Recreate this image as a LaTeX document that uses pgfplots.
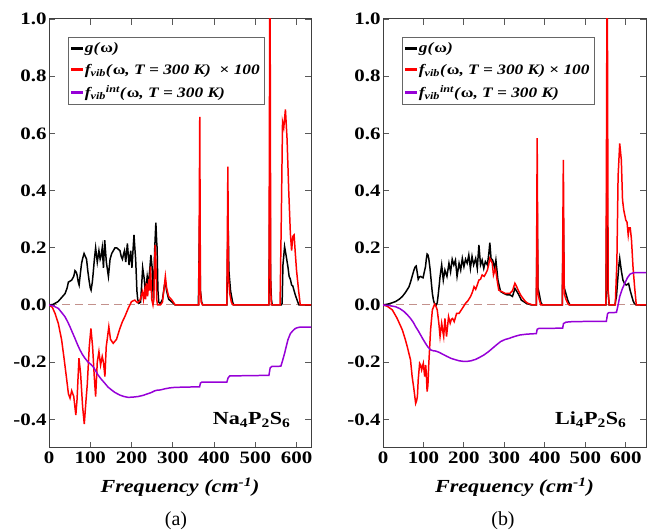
\documentclass[border=0pt]{standalone}
\usepackage{fontspec}
\setmainfont{Liberation Serif}[FakeStretch=1.2]
\newfontfamily\capfont{Liberation Serif}
\usepackage{pgfplots}
\usepackage{pgfplotstable}
\pgfplotsset{compat=1.18}
\definecolor{vio}{RGB}{150,0,215}
\definecolor{rosy}{RGB}{195,145,140}

\pgfplotstableread{
f v
0 0
10 0.002
22 0.012
30 0.025
39 0.04
44 0.06
47 0.08
55 0.087
60 0.1
63 0.12
66 0.115
68 0.105
71 0.08
73 0.07
76 0.11
79 0.146
82 0.165
85 0.18
88 0.17
91 0.16
94 0.12
97 0.087
100 0.06
102 0.052
105 0.08
107 0.11
110 0.16
113 0.2
117 0.15
121 0.19
124 0.16
126 0.17
129 0.2
132 0.13
135 0.227
139 0.15
142 0.12
144 0.1
146 0.13
148 0.16
152 0.18
156 0.19
160 0.2
164 0.2
168 0.195
172 0.19
175 0.17
178 0.16
181 0.18
183 0.19
186 0.15
190 0.215
194 0.14
198 0.19
201 0.13
204 0.2
206 0.245
208 0.2
210 0.16
212 0.09
213 0.05
215 0.02
218 0.006
222 0.01
225 0.08
227 0.13
229 0.11
231 0.09
234 0.03
236 0.07
238 0.1
241 0.07
244 0.12
247 0.175
250 0.13
252 0.05
253 0.01
255 0.12
256 0.19
259 0.288
261 0.22
262 0.2
264 0.05
266 0.01
270 0.005
275 0.02
280 0.07
282 0.08
285 0.05
290 0.02
298 0.01
306 0
362 0
365 0.3
367 0.05
370 0.01
373 0
431 0
434 0.3
436 0.12
440 0.05
445 0.01
448 0
533 0
535.5 0.5
537 0.1
539 0.02
541 0
563 0
565 0.005
567 0.14
571 0.204
575 0.17
579 0.134
582 0.1
585 0.09
588 0.07
591 0.066
594 0.05
597 0.035
603 0.01
606 0
635 0
}\gA

\pgfplotstableread{
f v
0 0
8 -0.008
14.5 -0.029
22.5 -0.064
30.6 -0.122
37 -0.192
43 -0.262
47 -0.31
51 -0.326
55 -0.3
60 -0.32
65 -0.385
68 -0.33
72.6 -0.186
76.6 -0.24
81.5 -0.356
85.5 -0.416
89.5 -0.337
92.7 -0.279
97.6 -0.146
101.6 -0.082
105.7 -0.146
109.7 -0.25
113 -0.32
117 -0.2
121 -0.163
125 -0.21
129 -0.18
132 -0.2
135.5 -0.25
138.7 -0.146
142 -0.11
145 -0.076
149 -0.12
155.6 -0.134
163.7 -0.12
171.8 -0.082
178 -0.058
184 -0.04
192 -0.012
200 0.012
208 0.017
214 0.008
220 0.015
226.6 0.047
229 0.02
232 0.05
234 0.02
236 0.076
239 0.03
242 0.09
244 0.05
246 0.134
249 0.02
252 0.0
254 0.02
256 0.15
257.5 0.21
259 0.15
261 0.02
263 0
270 0
275 0.01
279 0.06
282 0.1
285 0.06
290 0.03
298 0.017
306 0
363 0
365.4 0.658
367 0.05
369 0.01
372 0
431 0
433.5 0.484
435 0.1
438 0.04
442 0.01
446 0
533 0
535.5 1.3
537.5 0.05
539 0
560 0
563 0.3
566 0.64
569 0.62
573 0.684
577 0.58
581 0.4
585 0.25
588 0.19
591 0.24
594 0.245
597 0.18
600 0.12
605 0.05
609 0
635 0
}\rA

\pgfplotstableread{
f v
0 0
10 -0.003
22.6 -0.012
30 -0.025
38.7 -0.041
45 -0.058
50.8 -0.076
57 -0.097
63 -0.117
69 -0.138
75 -0.157
81 -0.173
87 -0.186
95 -0.2
101 -0.207
107 -0.216
113 -0.23
119 -0.245
127 -0.26
135.5 -0.274
143 -0.287
151.6 -0.297
160 -0.306
171.8 -0.315
182 -0.32
192 -0.323
204 -0.322
216 -0.32
228 -0.316
240 -0.31
248 -0.306
256.5 -0.3
262 -0.298
270 -0.297
281 -0.293
292 -0.29
305 -0.288
365 -0.286
367 -0.273
370 -0.27
431 -0.27
434 -0.255
438 -0.248
533 -0.246
536 -0.22
540 -0.215
562 -0.214
566 -0.195
571 -0.169
575 -0.145
579 -0.122
585 -0.1
591 -0.09
597 -0.082
603 -0.079
610 -0.077
635 -0.077
}\pA

\pgfplotstableread{
f v
0 0
15 0.004
31 0.012
40 0.02
48 0.03
56 0.045
64 0.063
68 0.08
72 0.1
76 0.12
79 0.132
82 0.136
85 0.11
87 0.09
90 0.098
93 0.1
96 0.097
99 0.095
102 0.115
105 0.134
107 0.16
109 0.178
111 0.175
113 0.163
116 0.13
118 0.1
120 0.07
122 0.04
125 0.015
127 0.006
131.5 0
134 0.008
136 0.03
139 0.07
141 0.1
145 0.14
149 0.087
153 0.122
158 0.1
163 0.146
167 0.116
171 0.16
175 0.14
179 0.157
183 0.1
188 0.146
192 0.122
196 0.163
200 0.134
204 0.16
208 0.146
212 0.175
216 0.128
220 0.17
224 0.14
229 0.163
233 0.128
237 0.21
241 0.14
245 0.157
249 0.128
253 0.152
258 0.14
262 0.186
264 0.218
267 0.163
271 0.157
276 0.128
279 0.157
284 0.087
290.6 0.047
299 0.04
307 0.035
314 0.035
320 0.03
326 0.058
334 0.04
342 0.017
354 0.006
367 0
379 0
381 0.35
383 0.06
386 0.04
390 0.01
394 0
443 0
445.5 0.3
448 0.06
452 0.04
457 0.015
462 0
551 0
553.5 0.5
556 0.05
559 0
573 0
577 0.03
580 0.087
583 0.14
585 0.163
589 0.12
593 0.087
597 0.075
601 0.07
604 0.072
607 0.075
611 0.05
614 0.035
618 0.015
621 0.006
626 0
650 0
}\gB

\pgfplotstableread{
f v
0 0
10 -0.004
23 -0.017
35 -0.047
47.7 -0.087
55 -0.12
60 -0.146
68 -0.192
72 -0.25
76 -0.29
80.7 -0.344
83 -0.335
85 -0.32
87 -0.262
90.5 -0.204
93 -0.21
95.5 -0.227
99.6 -0.204
103 -0.25
105.5 -0.21
107 -0.24
109 -0.303
111 -0.28
113 -0.21
117.6 -0.087
122 -0.017
127.6 0.003
131 -0.005
134 -0.017
138 -0.064
141 -0.11
145 -0.064
148 -0.093
150 -0.11
153 -0.047
157 -0.11
162 -0.041
166 -0.064
169 -0.05
172 -0.047
176 -0.058
182 -0.029
188 -0.029
196 -0.012
204 0.006
210 0.015
216.5 0.03
221 0.045
225 0.064
229 0.055
233 0.07
237 0.087
241 0.09
245 0.105
250 0.1
254 0.11
258 0.122
261 0.14
264 0.163
267 0.155
270 0.146
273 0.105
276 0.12
278 0.128
282 0.087
286 0.052
293 0.047
303 0.04
314 0.041
320 0.05
326 0.076
330 0.065
334 0.052
340 0.035
346 0.023
352 0.012
358 0.006
370 0
379 0
381 0.583
383 0.04
386 0.02
390 0
443 0
445.7 0.507
448 0.04
452 0.02
457 0.005
460 0
551 0
554 1.3
556.5 0.05
559 0
574 0
578 0.15
581 0.45
585 0.565
589 0.507
592 0.367
595 0.332
600 0.297
603 0.29
606 0.245
608 0.27
611 0.27
614 0.23
618 0.13
622 0.06
626 0
650 0
}\rB

\pgfplotstableread{
f v
0 0
15 -0.002
31 -0.006
42 -0.013
52 -0.023
60 -0.034
68 -0.047
75 -0.061
80.7 -0.076
87 -0.09
93 -0.105
99 -0.12
105 -0.134
111 -0.147
117.6 -0.157
124 -0.16
130 -0.161
138 -0.165
146 -0.171
157 -0.179
167 -0.186
178 -0.191
188 -0.195
198 -0.197
208 -0.197
218 -0.195
229 -0.19
239 -0.183
249 -0.175
260 -0.164
270 -0.152
280 -0.14
290.6 -0.128
301 -0.121
311 -0.117
325 -0.11
338 -0.105
355 -0.102
379 -0.1
381 -0.085
385 -0.082
444 -0.081
446 -0.065
452 -0.06
470 -0.058
552 -0.057
555 -0.03
558 -0.027
577 -0.026
581 0.0
585 0.029
591 0.055
597.5 0.076
604 0.095
610 0.107
614 0.11
620 0.113
650 0.113
}\pB

\pgfplotsset{
  panel/.style={
    anchor=south west, scale only axis, height=429bp,
    ymin=-0.5, ymax=1.0, xmin=0,
    axis line style={line width=1pt, black!75},
    every tick/.style={line width=0.9pt, black!65},
    major tick length=6bp,
    xtick={0,100,200,300,400,500,600},
    xticklabels={0,100,200,300,400,500,600},
    ytick={-0.4,-0.2,0,0.2,0.4,0.6,0.8,1.0},
    yticklabels={-0.4,-0.2,0.0,0.2,0.4,0.6,0.8,1.0},
    ticklabel style={font=\fontsize{17.5}{17.5}\selectfont\bfseries},
    yticklabel style={xshift=1bp},
    xticklabel style={yshift=-0.5bp},
    xlabel={Frequency (cm\textsuperscript{-1})},
    xlabel style={font=\fontsize{18.5}{18.5}\selectfont\bfseries\itshape,
      at={(axis description cs:0.5,0)}, anchor=base, yshift=-45bp},
    legend cell align=left,
    legend style={at={(0.0725,0.958)}, anchor=north west,
      draw=black!60, line width=0.8pt,
      font=\fontsize{14.5}{16}\selectfont\bfseries\itshape,
      row sep=6bp, inner xsep=3bp, inner ysep=3bp},
  },
  gline/.style={draw=black, line width=1.5pt},
  rline/.style={draw=red, line width=1.5pt},
  pline/.style={draw=vio, line width=1.5pt},
  limg/.style={legend image code/.code={\fill[#1] (0bp,-0.8bp) rectangle (10bp,0.8bp);}},
}

\begin{document}
\begin{tikzpicture}[x=1bp,y=1bp]
\path[use as bounding box] (0,0) rectangle (653,531);

\begin{axis}[panel, at={(49bp,83bp)}, width=262bp, xmax=635]
\addplot[forget plot, color=rosy, line width=1pt, dash pattern=on 8bp off 5bp] coordinates {(0,0) (635,0)};
\addplot[gline, limg=black] table[x=f,y=v] {\gA};
\addlegendentry{g(\textup{ω})}
\addplot[rline, limg=red] table[x=f,y=v] {\rA};
\addlegendentry{f\textsubscript{vib}(\textup{ω}, T = 300 K) \ \textup{×} 100}
\addplot[pline, limg=vio] table[x=f,y=v] {\pA};
\addlegendentry{f\textsubscript{vib}\textsuperscript{int}(\textup{ω}, T = 300 K)}
\node[anchor=base east, font=\fontsize{18.5}{18.5}\selectfont\bfseries] at (rel axis cs:0.935,0.054) {Na\textsubscript{4}P\textsubscript{2}S\textsubscript{6}};
\end{axis}

\begin{axis}[panel, at={(383bp,83bp)}, width=263bp, xmax=650]
\addplot[forget plot, color=rosy, line width=1pt, dash pattern=on 8bp off 5bp] coordinates {(0,0) (650,0)};
\addplot[gline, limg=black] table[x=f,y=v] {\gB};
\addlegendentry{g(\textup{ω})}
\addplot[rline, limg=red] table[x=f,y=v] {\rB};
\addlegendentry{f\textsubscript{vib}(\textup{ω}, T = 300 K) \textup{×} 100}
\addplot[pline, limg=vio] table[x=f,y=v] {\pB};
\addlegendentry{f\textsubscript{vib}\textsuperscript{int}(\textup{ω}, T = 300 K)}
\node[anchor=base east, font=\fontsize{18.5}{18.5}\selectfont\bfseries] at (rel axis cs:0.939,0.054) {Li\textsubscript{4}P\textsubscript{2}S\textsubscript{6}};
\end{axis}

\node[font=\fontsize{20}{20}\selectfont\capfont] at (176,10) {(a)};
\node[font=\fontsize{20}{20}\selectfont\capfont] at (503,10) {(b)};
\end{tikzpicture}
\end{document}
